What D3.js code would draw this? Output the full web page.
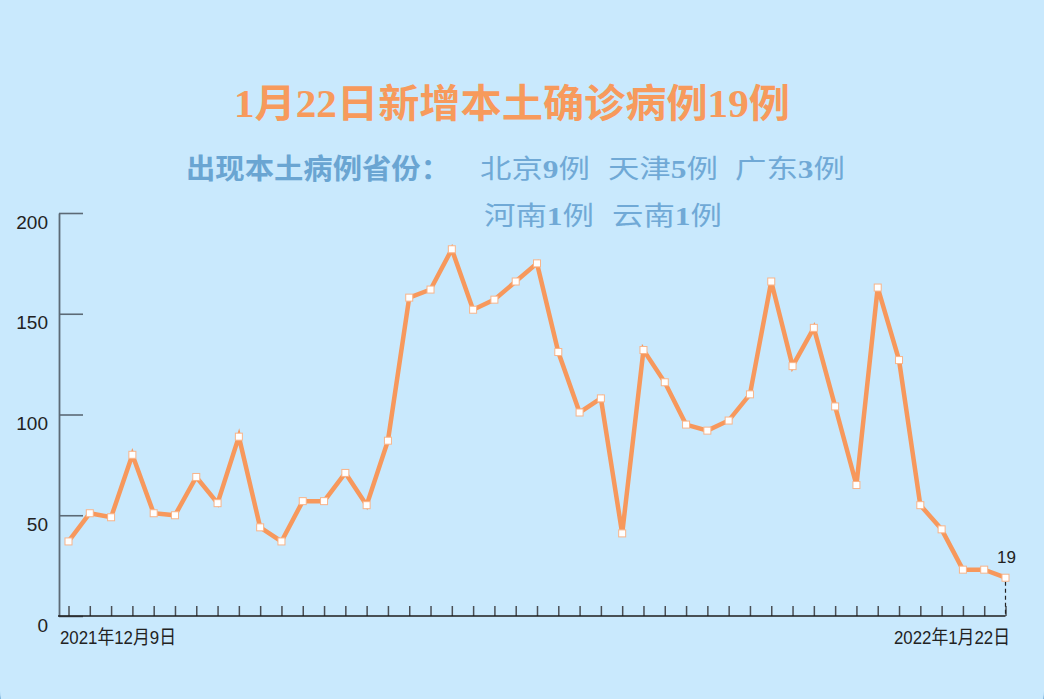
<!DOCTYPE html>
<html>
<head>
<meta charset="utf-8">
<script src="https://cdn.jsdelivr.net/npm/d3@7"></script>
<style>
html,body{margin:0;padding:0;background:#c9e9fd;overflow:hidden;}
svg{display:block;}
</style>
</head>
<body>
<svg id="chart" width="1044" height="699"></svg>
<script>
// ---- data ----
const dates = [
  "2021-12-09","2021-12-10","2021-12-11","2021-12-12","2021-12-13","2021-12-14","2021-12-15","2021-12-16",
  "2021-12-17","2021-12-18","2021-12-19","2021-12-20","2021-12-21","2021-12-22","2021-12-23","2021-12-24",
  "2021-12-25","2021-12-26","2021-12-27","2021-12-28","2021-12-29","2021-12-30","2021-12-31",
  "2022-01-01","2022-01-02","2022-01-03","2022-01-04","2022-01-05","2022-01-06","2022-01-07","2022-01-08",
  "2022-01-09","2022-01-10","2022-01-11","2022-01-12","2022-01-13","2022-01-14","2022-01-15","2022-01-16",
  "2022-01-17","2022-01-18","2022-01-19","2022-01-20","2022-01-21","2022-01-22"
];
const cases = [
  37,51,49,80,51,50,69,56,89,44,
  37,57,57,71,55,87,158,162,182,152,
  157,166,175,131,101,108,41,132,116,95,
  92,97,110,166,124,143,104,65,163,127,
  55,43,23,23,19
];
const yTicks = [0,50,100,150,200];
const xTickLabels = ["2021年12月9日","2022年1月22日"];
const titleText = ["1","月","22","日新增本土确诊病例","19","例"];
const subtitleLabel = "出现本土病例省份：";
const provinces = ["北京","天津","广东","河南","云南"];
const provinceCounts = ["9","5","3","1","1"];

// ---- setup ----
const W = 1044, H = 699;
const svg = d3.select("#chart");
const CJK = "'Noto Sans CJK SC','Noto Sans',sans-serif";
const SERIF_CJK = "'Liberation Serif','Noto Sans CJK SC',serif";

// background panel with slightly rounded bottom corners
svg.append("rect").attr("x",0).attr("y",0).attr("width",W).attr("height",H).attr("fill","#7fb6df");
svg.append("rect").attr("x",0).attr("y",-100).attr("width",W).attr("height",821).attr("rx",30).attr("ry",30).attr("fill","#c9e9fd");

// ---- title ----
const title = svg.append("text")
  .attr("x",234).attr("y",116.5)
  .attr("textLength",556).attr("lengthAdjust","spacingAndGlyphs")
  .attr("fill","#f79a5c").attr("font-size",39).attr("font-weight","bold")
  .attr("font-family",SERIF_CJK);
titleText.forEach(t => title.append("tspan").text(t));

// ---- subtitle ----
svg.append("text")
  .attr("x",186).attr("y",178.5)
  .attr("textLength",264).attr("lengthAdjust","spacingAndGlyphs")
  .attr("fill","#6aa5d2").attr("font-size",28).attr("font-weight","bold")
  .attr("font-family",CJK).text(subtitleLabel);

const provPos = [[480,178],[608,178],[735,178],[484,225],[612,225]];
provinces.forEach((p,i) => {
  const t = svg.append("text")
    .attr("x",provPos[i][0]).attr("y",provPos[i][1])
    .attr("textLength",110).attr("lengthAdjust","spacingAndGlyphs")
    .attr("fill","#70a9d6").attr("font-size",26)
    .attr("font-family",CJK);
  t.append("tspan").text(p);
  t.append("tspan").attr("font-family",SERIF_CJK).attr("font-weight","bold").text(provinceCounts[i]);
  t.append("tspan").text("例");
});

// ---- scales ----
const x = d3.scalePoint().domain(dates).range([68.5,1005.5]);
const y = d3.scaleLinear().domain([0,200]).range([616,213]);

// y axis
const yAxis = svg.append("g").attr("transform","translate(59,0)")
  .call(d3.axisLeft(y).tickValues(yTicks).tickSizeInner(-24).tickSizeOuter(0).tickPadding(11));
yAxis.select(".domain").attr("stroke","#5c6a76").attr("stroke-width",1.8);
yAxis.selectAll(".tick line").attr("stroke","#5c6a76").attr("stroke-width",1.6);
yAxis.selectAll(".tick text").attr("font-family","'Liberation Sans',Arial,sans-serif")
  .attr("font-size",19).attr("fill","#222").attr("dy","0.79em");

// x axis ticks
const xAxis = svg.append("g").attr("transform","translate(0,616)")
  .call(d3.axisBottom(x).tickSizeInner(-10).tickSizeOuter(0).tickFormat(""));
xAxis.select(".domain").remove();
xAxis.selectAll(".tick line").attr("stroke","#4a4f55").attr("stroke-width",1.5);
// baseline
svg.append("line").attr("x1",58).attr("x2",x(dates[dates.length-1])).attr("y1",616).attr("y2",616)
  .attr("stroke","#1c1c1c").attr("stroke-width",1.6);

// x labels
svg.append("text").attr("x",60).attr("y",644)
  .attr("textLength",116).attr("lengthAdjust","spacingAndGlyphs")
  .attr("font-family","'Liberation Sans','Noto Sans CJK SC',sans-serif").attr("font-size",19)
  .attr("fill","#222").text(xTickLabels[0]);
svg.append("text").attr("x",894).attr("y",644)
  .attr("textLength",116).attr("lengthAdjust","spacingAndGlyphs")
  .attr("font-family","'Liberation Sans','Noto Sans CJK SC',sans-serif").attr("font-size",19)
  .attr("fill","#222").text(xTickLabels[1]);

// dashed drop line for last point
const lastIdx = dates.length-1;
svg.append("line")
  .attr("x1",x(dates[lastIdx])).attr("x2",x(dates[lastIdx]))
  .attr("y1",y(cases[lastIdx])+4).attr("y2",616)
  .attr("stroke","#222").attr("stroke-width",1.2).attr("stroke-dasharray","4,3");

// line
const line = d3.line().x((d,i)=>x(dates[i])).y(d=>y(d));
svg.append("path").datum(cases).attr("d",line)
  .attr("fill","none").attr("stroke","#f7985c").attr("stroke-width",4.5)
  .attr("stroke-linejoin","miter");

// markers
svg.selectAll("rect.mk").data(cases).join("rect").attr("class","mk")
  .attr("x",(d,i)=>x(dates[i])-3.5).attr("y",d=>y(d)-3.5)
  .attr("width",7).attr("height",7)
  .attr("fill","#ffffff").attr("stroke","#f9b489").attr("stroke-width",1);

// last value label
svg.append("text").attr("x",x(dates[lastIdx])+1).attr("y",563)
  .attr("text-anchor","middle").attr("font-family","'Liberation Sans',Arial,sans-serif")
  .attr("font-size",17).attr("fill","#222").text(cases[lastIdx]);
</script>
</body>
</html>
